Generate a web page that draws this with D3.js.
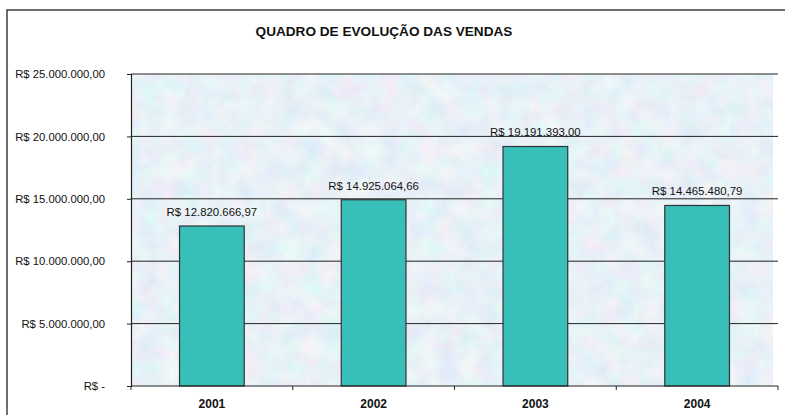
<!DOCTYPE html>
<html>
<head>
<meta charset="utf-8">
<script src="https://cdn.jsdelivr.net/npm/d3@7"></script>
<style>
  body { margin: 0; background: #fff; }
  text { font-family: "Liberation Sans", Arial, sans-serif; fill: #111; }
</style>
</head>
<body>
<div id="chart"></div>
<script>
// Data
var years = ['2001', '2002', '2003', '2004'];
var sales = [12820666.97, 14925064.66, 19191393.00, 14465480.79];
var yTicks = [0, 5000000, 10000000, 15000000, 20000000, 25000000];
var title = 'QUADRO DE EVOLUÇÃO DAS VENDAS';

var width = 785;
var height = 415;
var plot = { left: 131, right: 778, top: 74, bottom: 386 };

// pt-BR number formatting
var br = d3.formatLocale({ decimal: ',', thousands: '.', grouping: [3], currency: ['R$ ', ''] });
var money = br.format(',.2f');
function label(v) { return v === 0 ? 'R$ -' : 'R$ ' + money(v); }

var xScale = d3.scaleBand()
  .domain(years)
  .range([plot.left, plot.right])
  .paddingInner(0.6)
  .paddingOuter(0.3);

var yScale = d3.scaleLinear()
  .domain([0, 25000000])
  .range([plot.bottom, plot.top]);

var svg = d3.select('#chart')
  .append('svg')
  .attr('width', width)
  .attr('height', height);

// mottled paper background
var defs = svg.append('defs');
var f = defs.append('filter').attr('id', 'paper')
  .attr('x', 0).attr('y', 0).attr('width', 1).attr('height', 1);
f.append('feTurbulence')
  .attr('type', 'fractalNoise')
  .attr('baseFrequency', 0.05)
  .attr('numOctaves', 4)
  .attr('seed', 3)
  .attr('result', 'noise');
f.append('feColorMatrix')
  .attr('in', 'noise')
  .attr('type', 'matrix')
  .attr('values', '0.3 0 0 0 0.66  0 0.2 0 0 0.78  0 0 0.08 0 0.89  0 0 0 0 1');

// outer frame
svg.append('rect')
  .attr('x', 7).attr('y', 10)
  .attr('width', 790).attr('height', 420)
  .attr('fill', 'none')
  .attr('stroke', '#222')
  .attr('stroke-width', 1.3);

// title
svg.append('text')
  .attr('x', 384).attr('y', 36)
  .attr('text-anchor', 'middle')
  .style('font-weight', 'bold')
  .style('font-size', '13.6px')
  .text(title);

// plot area
svg.append('rect')
  .attr('x', plot.left).attr('y', plot.top)
  .attr('width', plot.right - plot.left - 5)
  .attr('height', plot.bottom - plot.top)
  .attr('filter', 'url(#paper)');

// gridlines
svg.append('g')
  .selectAll('line')
  .data(yTicks.filter(function (d) { return d > 0; }))
  .enter()
  .append('line')
  .attr('x1', plot.left).attr('x2', plot.right)
  .attr('y1', function (d) { return yScale(d); })
  .attr('y2', function (d) { return yScale(d); })
  .attr('stroke', '#222')
  .attr('stroke-width', 1);

// bars
svg.append('g')
  .selectAll('rect')
  .data(sales)
  .enter()
  .append('rect')
  .attr('x', function (d, i) { return xScale(years[i]); })
  .attr('y', function (d) { return yScale(d); })
  .attr('width', xScale.bandwidth())
  .attr('height', function (d) { return plot.bottom - yScale(d); })
  .attr('fill', '#38bfb9')
  .attr('stroke', '#333')
  .attr('stroke-width', 1.2);

// value labels
svg.append('g')
  .selectAll('text')
  .data(sales)
  .enter()
  .append('text')
  .attr('x', function (d, i) { return xScale(years[i]) + xScale.bandwidth() / 2; })
  .attr('y', function (d) { return yScale(d) - 10; })
  .attr('text-anchor', 'middle')
  .style('font-size', '11.4px')
  .text(function (d) { return label(d); });

// y axis
var yAxis = d3.axisLeft(yScale)
  .tickValues(yTicks)
  .tickSize(4)
  .tickPadding(22)
  .tickFormat(label);

svg.append('g')
  .attr('transform', 'translate(' + plot.left + ',0)')
  .call(yAxis)
  .call(function (g) {
    g.select('.domain').attr('stroke', '#222').attr('stroke-width', 1.2);
    g.selectAll('.tick line').attr('stroke', '#222');
    g.selectAll('.tick text').style('font-size', '11.3px').attr('fill', '#111');
  });

// x axis: ticks at category boundaries
var xAxis = d3.axisBottom(xScale).tickSize(0).tickPadding(13);
var gx = svg.append('g')
  .attr('transform', 'translate(0,' + plot.bottom + ')')
  .call(xAxis);
gx.select('.domain').remove();
gx.selectAll('.tick text')
  .style('font-size', '12px')
  .style('font-weight', 'bold')
  .attr('fill', '#111');

var step = xScale.step();
var bounds = d3.range(years.length + 1).map(function (i) { return plot.left + i * step; });
gx.append('line')
  .attr('x1', plot.left).attr('x2', plot.right)
  .attr('stroke', '#222').attr('stroke-width', 1.2);
gx.selectAll('.bound')
  .data(bounds)
  .enter()
  .append('line')
  .attr('class', 'bound')
  .attr('x1', function (d) { return d; })
  .attr('x2', function (d) { return d; })
  .attr('y1', 0).attr('y2', 4)
  .attr('stroke', '#222');
</script>
</body>
</html>
